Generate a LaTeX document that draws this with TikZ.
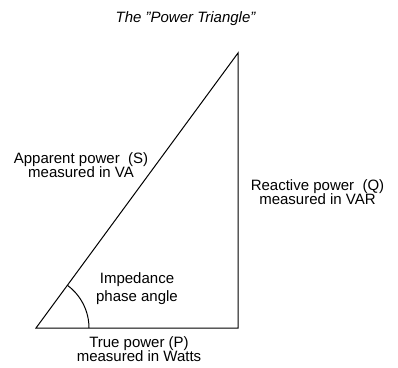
\documentclass[tikz,border=0pt]{standalone}
\usepackage{fontspec}
\setmainfont{Liberation Sans}
\usetikzlibrary{positioning}
\usetikzlibrary{calc}

\begin{document}
\begin{tikzpicture}[x=1pt,y=-1pt,
    lbl/.style={align=center, inner sep=0pt, font=\fontsize{15}{14}\selectfont},
    side/.style={line width=1pt, line join=miter}]
    \useasboundingbox (0,0) rectangle (398,367);
    % Triangle corners
    \coordinate (origin) at (36,328);
    \coordinate (corner) at (238,328);
    \coordinate (apex) at (238,53);
    \draw[side] (origin) -- (corner) -- (apex) -- cycle;

    % Phase angle arc
    \draw[side] ($(origin)+(53,0)$) arc[start angle=0, end angle=-53.7, radius=53];

    % Labels
    \node[lbl, font=\fontsize{15}{18}\selectfont\itshape] (title) at (185.5,19) {The \symbol{34}Power Triangle\symbol{34}};
    \node[lbl] (apparent) at (81,165) {Apparent power\ \ (S)\\measured in VA};
    \node[lbl] (reactive) at (317.5,192) {Reactive power\ \ (Q)\\measured in VAR};
    \node[lbl, font=\fontsize{15}{18}\selectfont] (angle) at (137,289) {Impedance\\phase angle};
    \node[lbl] (truep) at (139,349) {True power (P)\\measured in Watts};
\end{tikzpicture}
\end{document}
